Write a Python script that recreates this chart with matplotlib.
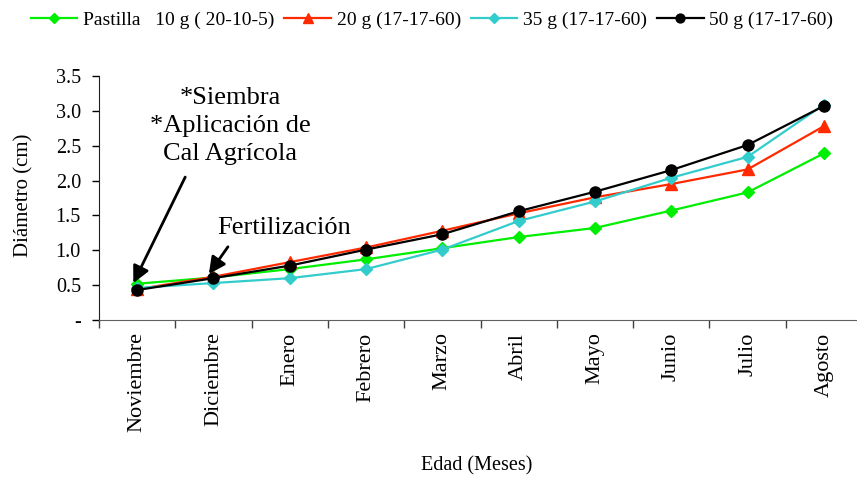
import matplotlib
matplotlib.use("Agg")
import matplotlib.pyplot as plt

plt.rcParams["font.family"] = ["Liberation Serif", "DejaVu Serif"]

meses = ["Noviembre", "Diciembre", "Enero", "Febrero", "Marzo",
         "Abril", "Mayo", "Junio", "Julio", "Agosto"]

pastilla_10g = [0.52, 0.61, 0.73, 0.87, 1.03, 1.19, 1.32, 1.57, 1.83, 2.39]
dosis_20g = [0.44, 0.62, 0.83, 1.04, 1.28, 1.53, 1.76, 1.95, 2.16, 2.78]
dosis_35g = [0.46, 0.53, 0.60, 0.73, 1.01, 1.42, 1.70, 2.04, 2.34, 3.09]
dosis_50g = [0.43, 0.60, 0.78, 1.01, 1.23, 1.56, 1.84, 2.15, 2.51, 3.07]

etiquetas = ["Pastilla   10 g ( 20-10-5)", "20 g (17-17-60)",
             "35 g (17-17-60)", "50 g (17-17-60)"]
y_ticks = [0, 0.5, 1.0, 1.5, 2.0, 2.5, 3.0, 3.5]
y_labels = ["-", "0.5", "1.0", "1.5", "2.0", "2.5", "3.0", "3.5"]

W, H = 857, 478
fig = plt.figure(figsize=(W / 100, H / 100), dpi=100)
ax = fig.add_axes([99 / W, 158 / H, 763 / W, 244 / H])

x = list(range(len(meses)))
series = [
    (pastilla_10g, "#00EE00", "D", 6.5),
    (dosis_20g, "#FF2A00", "^", 8.5),
    (dosis_35g, "#33CCCC", "D", 6.5),
    (dosis_50g, "#000000", "o", 8),
]
for (vals, col, mk, ms), lab in zip(series, etiquetas):
    ax.plot(x, vals, color=col, marker=mk, markersize=ms, linewidth=1.6,
            markeredgecolor=col, label=lab, clip_on=False)

ax.set_xlim(-0.5, len(meses) - 0.5)
ax.set_ylim(0, 3.5)

ax.set_yticks(y_ticks)
ax.set_yticklabels(y_labels, fontsize=14.5)
ax.tick_params(axis="y", direction="out", length=5, pad=8, width=1)

ax.set_xticks([i - 0.5 for i in range(len(meses) + 1)])
ax.set_xticklabels([])
ax.tick_params(axis="x", which="major", direction="out", length=6, width=1,
               color="#404040")
ax.set_xticks(x, minor=True)
ax.set_xticklabels(meses, minor=True, rotation=90, fontsize=16,
                   va="top", ha="center")
ax.tick_params(axis="x", which="minor", length=0, pad=9)

for s in ["top", "right"]:
    ax.spines[s].set_visible(False)
ax.spines["left"].set_color("#202020")
ax.spines["bottom"].set_color("#606060")

fig.text(24 / W, 1 - 195 / H, "Diámetro (cm)", rotation=90,
         ha="center", va="center", fontsize=15)
fig.text(477 / W, 1 - 466 / H, "Edad (Meses)", ha="center", va="center",
         fontsize=14.5)

ax.legend(loc="center", bbox_to_anchor=(432 / W, 1 - 20 / H),
          bbox_transform=fig.transFigure, ncol=4, frameon=False,
          fontsize=14, handlelength=2.4, handletextpad=0.3,
          columnspacing=0.5, markerscale=0.8)

arrow = dict(arrowstyle="-|>,head_length=1.0,head_width=0.5",
             color="black", lw=2, shrinkA=0, shrinkB=0)
ax.text(1.22, 2.78, "*Siembra\n*Aplicación de\nCal Agrícola",
        ha="center", va="center", fontsize=19, linespacing=1.35)
ax.annotate("", xy=(-0.05, 0.53), xytext=(0.63, 2.05),
            arrowprops=arrow)
ax.annotate("", xy=(0.94, 0.66), xytext=(1.19, 1.05),
            arrowprops=arrow)
ax.text(1.92, 1.32, "Fertilización", ha="center", va="center", fontsize=19,
        zorder=5, bbox=dict(facecolor="white", edgecolor="none", pad=1))

fig.savefig("out.png", dpi=100)
